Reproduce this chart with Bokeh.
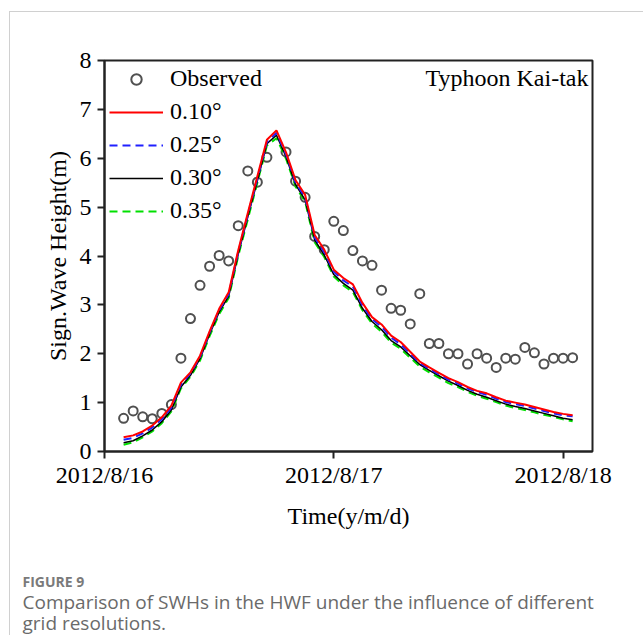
from bokeh.plotting import figure
from bokeh.models import Range1d, FixedTicker, Legend, LegendItem, Label, Title
from bokeh.embed import file_html
from bokeh.resources import INLINE

# ---------------- data (hours after 2012/8/16 00:00) ----------------
model_hours = list(range(2, 50))
res_010 = [0.29, 0.33, 0.41, 0.53, 0.70, 0.94, 1.41, 1.62, 1.96, 2.46, 2.92, 3.26,
           4.12, 4.88, 5.63, 6.38, 6.57, 6.12, 5.55, 5.25, 4.43, 4.13, 3.72, 3.55,
           3.42, 3.04, 2.75, 2.60, 2.37, 2.24, 2.04, 1.84, 1.72, 1.61, 1.50, 1.42,
           1.32, 1.24, 1.19, 1.11, 1.04, 1.00, 0.96, 0.91, 0.86, 0.81, 0.77, 0.74]
res_025 = [0.24, 0.28, 0.37, 0.49, 0.66, 0.90, 1.37, 1.60, 1.93, 2.43, 2.89, 3.22,
           4.08, 4.84, 5.58, 6.33, 6.52, 6.08, 5.50, 5.20, 4.38, 4.08, 3.68, 3.50,
           3.37, 2.99, 2.71, 2.55, 2.33, 2.19, 2.00, 1.81, 1.69, 1.58, 1.47, 1.39,
           1.29, 1.22, 1.16, 1.08, 1.01, 0.97, 0.93, 0.88, 0.83, 0.78, 0.74, 0.72]
res_030 = [0.18, 0.22, 0.32, 0.44, 0.61, 0.85, 1.32, 1.56, 1.90, 2.40, 2.85, 3.18,
           4.04, 4.80, 5.54, 6.30, 6.47, 6.03, 5.46, 5.15, 4.33, 4.02, 3.62, 3.44,
           3.30, 2.93, 2.66, 2.49, 2.27, 2.14, 1.96, 1.78, 1.66, 1.55, 1.44, 1.35,
           1.25, 1.17, 1.11, 1.04, 0.97, 0.92, 0.88, 0.83, 0.78, 0.73, 0.68, 0.65]
res_035 = [0.14, 0.19, 0.29, 0.41, 0.58, 0.82, 1.29, 1.53, 1.86, 2.36, 2.81, 3.14,
           4.00, 4.75, 5.50, 6.26, 6.41, 5.99, 5.42, 5.11, 4.28, 3.98, 3.58, 3.40,
           3.26, 2.89, 2.62, 2.45, 2.23, 2.10, 1.92, 1.74, 1.62, 1.51, 1.40, 1.32,
           1.22, 1.14, 1.08, 1.01, 0.94, 0.89, 0.85, 0.80, 0.75, 0.71, 0.66, 0.62]

obs_hours = [2, 3, 4, 5, 6, 7, 8, 9, 10, 11, 12, 13, 14, 15, 16, 17, 19, 20, 21,
             22, 23, 24, 25, 26, 27, 28, 29, 30, 31, 32, 33, 34, 35, 36, 37, 38,
             39, 40, 41, 42, 43, 44, 45, 46, 47, 48, 49]
obs_swh = [0.68, 0.83, 0.71, 0.67, 0.78, 0.96, 1.91, 2.72, 3.40, 3.79, 4.01, 3.90,
           4.62, 5.74, 5.51, 6.02, 6.13, 5.53, 5.20, 4.40, 4.13, 4.71, 4.52, 4.11,
           3.90, 3.81, 3.30, 2.93, 2.89, 2.61, 3.23, 2.21, 2.21, 2.00, 2.00, 1.79,
           2.00, 1.91, 1.72, 1.91, 1.89, 2.13, 2.02, 1.79, 1.91, 1.91, 1.92]

tick_hours = [0, 24, 48]
tick_labels = ["2012/8/16", "2012/8/17", "2012/8/18"]
y_ticks = [0, 1, 2, 3, 4, 5, 6, 7, 8]

# ---------------- layout ----------------
OX, OY = 10, 12            # page offset of the figure (inside the gray frame)
W, H = 644 - OX, 636 - OY
L, R, T, B = 104 - OX, 592 - OX, 60 - OY, 453 - OY
X_END = 51.08
SERIF = "Liberation Serif"

p = figure(width=W, height=H, x_range=Range1d(0, X_END), y_range=Range1d(0, 8),
           output_backend="svg", toolbar_location=None,
           min_border_left=L, min_border_right=W - R,
           min_border_top=T, min_border_bottom=H - B,
           margin=(OY - 1, 0, 0, OX - 1),
           styles={"border-left": "1px solid #d0d0d0", "border-top": "1px solid #d0d0d0"})
p.background_fill_color = "white"
p.border_fill_color = "white"
p.outline_line_color = "#222222"
p.outline_line_width = 2
p.xgrid.visible = False
p.ygrid.visible = False

sx = (R - L) / X_END
sy = (B - T) / 8.0
def dx(px):
    return (px - OX - L) / sx
def dy(py):
    return (B - (py - OY)) / sy

r_obs = p.scatter(obs_hours, obs_swh, marker="circle", size=9, fill_color=None,
                  line_color="#505050", line_width=2)
r35 = p.line(model_hours, res_035, line_color="#00e000", line_width=2, line_dash="8 5")
r30 = p.line(model_hours, res_030, line_color="black", line_width=1.5)
r25 = p.line(model_hours, res_025, line_color="#2020ff", line_width=2, line_dash="8 5")
r10 = p.line(model_hours, res_010, line_color="#ff0000", line_width=2)

for ax in (p.xaxis[0], p.yaxis[0]):
    ax.axis_line_width = 2
    ax.axis_line_color = "#222222"
    ax.major_tick_line_width = 2
    ax.major_tick_line_color = "#222222"
    ax.major_tick_out = 7
    ax.major_tick_in = 0
    ax.minor_tick_line_color = None
    ax.major_label_text_font = SERIF
    ax.major_label_text_font_size = "24px"
    ax.major_label_text_color = "black"
    ax.axis_label_text_font = SERIF
    ax.axis_label_text_font_size = "24px"
    ax.axis_label_text_font_style = "normal"
    ax.axis_label_text_color = "black"

p.xaxis.ticker = FixedTicker(ticks=tick_hours)
p.xaxis.major_label_overrides = {h: s for h, s in zip(tick_hours, tick_labels)}
p.xaxis.major_label_standoff = 3
p.xaxis.axis_label = "Time(y/m/d)"
p.xaxis.axis_label_standoff = 12

p.yaxis.ticker = FixedTicker(ticks=y_ticks)
p.yaxis.major_label_standoff = 6
p.yaxis.axis_label = "Sign.Wave Height(m)"
p.yaxis.axis_label_standoff = 6

legend = Legend(items=[
    LegendItem(label="Observed", renderers=[r_obs]),
    LegendItem(label="0.10°", renderers=[r10]),
    LegendItem(label="0.25°", renderers=[r25]),
    LegendItem(label="0.30°", renderers=[r30]),
    LegendItem(label="0.35°", renderers=[r35]),
], location="top_left", margin=5, padding=4, glyph_width=54, glyph_height=26,
   label_height=26, spacing=6, label_standoff=7, border_line_color=None,
   background_fill_alpha=0, label_text_font=SERIF, label_text_font_size="24px",
   label_text_color="black")
p.add_layout(legend)

p.add_layout(Label(x=dx(588), y=dy(78), text="Typhoon Kai-tak", text_align="right",
                   text_baseline="alphabetic", text_font=SERIF, text_font_size="24px",
                   text_color="black"))

# caption (stacked below the x axis)
cap_off = 22 - 104
p.add_layout(Title(text=" ", align="left", standoff=32, text_font_size="1px",
                   vertical_align="middle"), "below")
p.add_layout(Title(text="FIGURE 9", align="left", offset=cap_off, standoff=8,
                   vertical_align="middle",
                   text_font="Open Sans", text_font_size="14px", text_font_style="bold",
                   text_color="#7a7a7a"), "below")
p.add_layout(Title(text="Comparison of SWHs in the HWF under the influence of different",
                   align="left", offset=cap_off, standoff=-15, vertical_align="middle",
                   text_font="Open Sans", text_font_size="19px", text_font_style="normal",
                   text_color="#6a6a6a"), "below")
p.add_layout(Title(text="grid resolutions.", align="left", offset=cap_off, standoff=0,
                   vertical_align="middle",
                   text_font="Open Sans", text_font_size="19px", text_font_style="normal",
                   text_color="#6a6a6a"), "below")

open("out.html", "w").write(file_html(p, INLINE))
